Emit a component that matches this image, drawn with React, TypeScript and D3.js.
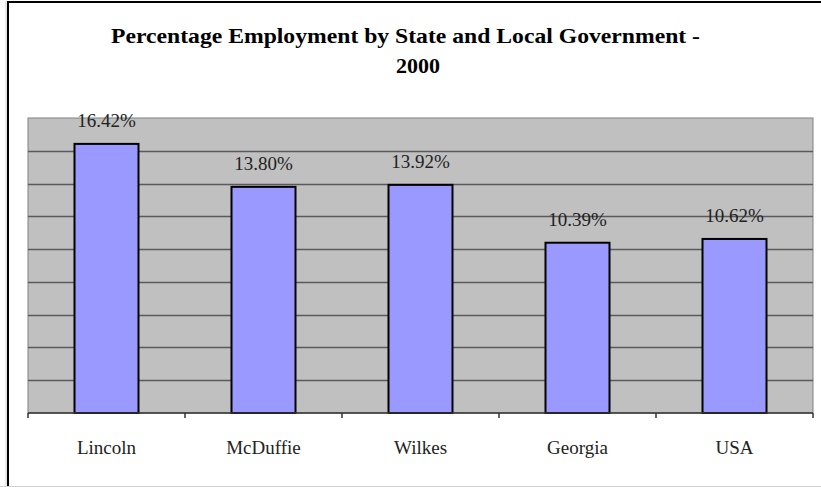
import React from "react";
import * as d3 from "d3";

const categories = ["Lincoln", "McDuffie", "Wilkes", "Georgia", "USA"];
const values = [16.42, 13.8, 13.92, 10.39, 10.62];
const valueLabels = ["16.42%", "13.80%", "13.92%", "10.39%", "10.62%"];
const gridTicks = [0, 2, 4, 6, 8, 10, 12, 14, 16, 18];
const titleLines = ["Percentage Employment by State and Local Government -", "2000"];

export default function App() {
  const W = 821, H = 487;
  const plot = { left: 28, right: 813, top: 118, bottom: 413 };
  const x = d3.scaleBand().domain(categories).range([plot.left, plot.right]).paddingInner(0).paddingOuter(0);
  const y = d3.scaleLinear().domain([0, 18]).range([plot.bottom, plot.top]);
  const bw = 64;
  const font = "'Liberation Serif', 'Times New Roman', serif";
  return (
    <svg width={W} height={H} style={{ position: "absolute", left: 0, top: 0, background: "#fff" }}>
      {/* outer frame */}
      <line x1={6} y1={1} x2={6} y2={H} stroke="#d0d0d0" strokeWidth={1} />
      <line x1={8} y1={2} x2={W} y2={2} stroke="#000" strokeWidth={2} />
      <line x1={8} y1={1} x2={8} y2={H} stroke="#000" strokeWidth={2} />
      <line x1={0} y1={486.5} x2={W} y2={486.5} stroke="#d0d0d0" strokeWidth={1} />
      {/* title */}
      <text x={405.5} y={43} textAnchor="middle" fontFamily={font} fontWeight="bold" fontSize={22} fill="#000" textLength={589} lengthAdjust="spacingAndGlyphs">{titleLines[0]}</text>
      <text x={418} y={73} textAnchor="middle" fontFamily={font} fontWeight="bold" fontSize={22} fill="#000" textLength={44} lengthAdjust="spacingAndGlyphs">{titleLines[1]}</text>
      {/* plot area */}
      <rect x={plot.left} y={plot.top} width={plot.right - plot.left} height={plot.bottom - plot.top} fill="#c0c0c0" stroke="#808080" strokeWidth={1} />
      {gridTicks.slice(1, -1).map((t) => (
        <line key={t} x1={plot.left} x2={plot.right} y1={Math.round(y(t)) + 0.5} y2={Math.round(y(t)) + 0.5} stroke="#5a5a5a" strokeWidth={1.3} />
      ))}
      {/* bars */}
      {categories.map((c, i) => {
        const cx = (x(c) as number) + x.bandwidth() / 2;
        return (
          <g key={c}>
            <rect x={cx - bw / 2} y={y(values[i])} width={bw} height={plot.bottom - y(values[i])} fill="#9999ff" stroke="#000" strokeWidth={2} />
            <text x={cx} y={y(values[i]) - 17} textAnchor="middle" fontFamily={font} fontSize={19} fill="#222">{valueLabels[i]}</text>
            <text x={cx} y={454} textAnchor="middle" fontFamily={font} fontSize={19} fill="#222">{c}</text>
          </g>
        );
      })}
      {/* axis */}
      <line x1={plot.left} x2={plot.right} y1={plot.bottom} y2={plot.bottom} stroke="#333" strokeWidth={1.5} />
      {categories.concat(["_end"]).map((c, i) => {
        const xx = plot.left + i * x.bandwidth();
        return <line key={c} x1={xx} x2={xx} y1={plot.bottom} y2={plot.bottom + 5} stroke="#333" strokeWidth={1.5} />;
      })}
    </svg>
  );
}
